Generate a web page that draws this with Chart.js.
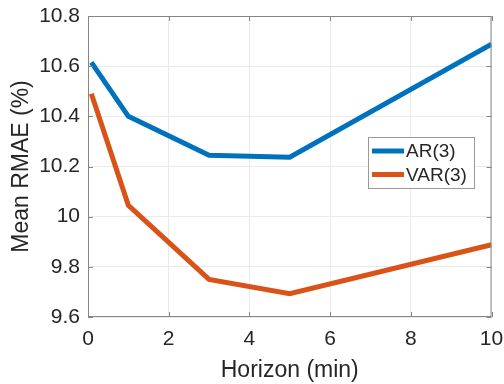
<!DOCTYPE html>
<html>
<head>
<meta charset="utf-8">
<script src="https://cdn.jsdelivr.net/npm/chart.js@4.4.1/dist/chart.umd.min.js"></script>
<style>
  html, body { margin: 0; padding: 0; background: #fff; }
  #wrap { width: 504px; height: 384px; }
</style>
</head>
<body>
<div id="wrap"><canvas id="rmae"></canvas></div>
<script>
// horizons in minutes (first one is 5 s)
const horizon = [1 / 12, 1, 3, 5, 10];
const arRmae = [10.615, 10.40, 10.245, 10.237, 10.688];
const varRmae = [10.49, 10.045, 9.75, 9.693, 9.888];
const seriesNames = ['AR(3)', 'VAR(3)'];
const xTicks = [0, 2, 4, 6, 8, 10];
const yTicks = [9.6, 9.8, 10, 10.2, 10.4, 10.6, 10.8];

const textCol = '#262626';
const boxCol = '#868686';
const family = "'Liberation Sans', Arial, sans-serif";
const tickFont = { family: family, size: 21 };
const titleFont = { family: family, size: 23 };

const toPts = (ys) => horizon.map((h, i) => ({ x: h, y: ys[i] }));

// MATLAB style box with inward ticks + legend inside the axes
const matlabBox = {
    id: 'matlabBox',
    afterDraw(chart) {
        const ctx = chart.ctx;
        const a = chart.chartArea;
        const xs = chart.scales.x, ys = chart.scales.y;
        ctx.save();
        ctx.strokeStyle = boxCol;
        ctx.lineWidth = 1;
        ctx.strokeRect(a.left + 0.5, a.top + 0.5, a.right - a.left - 1, a.bottom - a.top - 1);
        ctx.beginPath();
        xTicks.forEach(t => {
            const px = Math.round(xs.getPixelForValue(t)) + 0.5;
            ctx.moveTo(px, a.bottom); ctx.lineTo(px, a.bottom - 5);
            ctx.moveTo(px, a.top); ctx.lineTo(px, a.top + 5);
        });
        yTicks.forEach(t => {
            const py = Math.round(ys.getPixelForValue(t)) + 0.5;
            ctx.moveTo(a.left, py); ctx.lineTo(a.left + 5, py);
            ctx.moveTo(a.right, py); ctx.lineTo(a.right - 5, py);
        });
        ctx.stroke();

        // legend
        const lx = 368, ly = 137, lw = 106, lh = 51;
        ctx.fillStyle = '#fff';
        ctx.fillRect(lx, ly, lw, lh);
        ctx.strokeStyle = '#9a9a9a';
        ctx.strokeRect(lx + 0.5, ly + 0.5, lw, lh);
        ctx.font = `19px ${family}`;
        ctx.textBaseline = 'middle';
        chart.data.datasets.forEach((ds, i) => {
            const y = ly + 14 + i * 23.5;
            ctx.strokeStyle = ds.borderColor;
            ctx.lineWidth = 5;
            ctx.beginPath();
            ctx.moveTo(lx + 4, y); ctx.lineTo(lx + 36, y);
            ctx.stroke();
            ctx.fillStyle = textCol;
            ctx.fillText(ds.label, lx + 38, y + 1);
        });
        ctx.restore();
    }
};

new Chart(document.getElementById('rmae').getContext('2d'), {
    type: 'line',
    data: {
        datasets: [{
            label: seriesNames[0],
            data: toPts(arRmae),
            borderColor: '#0072BD',
            borderWidth: 5,
            pointRadius: 0,
            tension: 0,
            fill: false
        }, {
            label: seriesNames[1],
            data: toPts(varRmae),
            borderColor: '#D95319',
            borderWidth: 5,
            pointRadius: 0,
            tension: 0,
            fill: false
        }]
    },
    options: {
        responsive: true,
        maintainAspectRatio: false,
        animation: false,
        events: [],
        layout: { padding: { left: 0, right: 12.5, top: 16, bottom: 0 } },
        plugins: { legend: { display: false }, tooltip: { enabled: false } },
        scales: {
            x: {
                type: 'linear',
                min: 0, max: 10,
                afterBuildTicks: (s) => { s.ticks = xTicks.map(v => ({ value: v })); },
                afterFit: (s) => { s.height = 67; s.paddingLeft = 0; s.paddingRight = 0; },
                ticks: { color: textCol, font: tickFont, padding: 10, maxRotation: 0 },
                grid: { color: '#ebebeb', drawTicks: false },
                border: { display: false },
                title: { display: true, text: 'Horizon (min)', color: textCol, font: titleFont, padding: { top: 3, bottom: 0 } }
            },
            y: {
                min: 9.6, max: 10.8,
                afterBuildTicks: (s) => { s.ticks = yTicks.map(v => ({ value: v })); },
                afterFit: (s) => { s.width = 88; s.paddingTop = 0; s.paddingBottom = 0; },
                ticks: { color: textCol, font: tickFont, padding: 8, callback: (v) => String(+v.toFixed(1)) },
                grid: { color: '#ebebeb', drawTicks: false },
                border: { display: false },
                title: { display: true, text: 'Mean RMAE (%)', color: textCol, font: titleFont, padding: { top: 8, bottom: 0 } }
            }
        }
    },
    plugins: [matlabBox]
});
</script>
</body>
</html>
